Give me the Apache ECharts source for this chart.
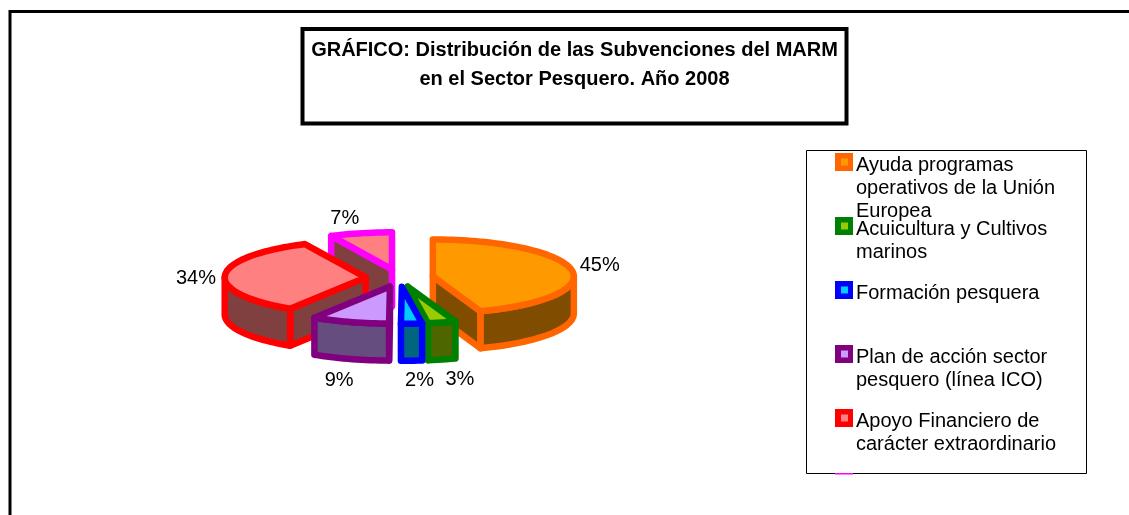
<!DOCTYPE html>
<html><head><meta charset="utf-8">
<style>html,body{margin:0;padding:0;background:#fff}#c{width:1129px;height:515px}</style>
<script src="https://cdn.jsdelivr.net/npm/echarts@6/dist/echarts.min.js"></script>
</head><body><div id="c"></div>
<script>
// Data
const categories = [
  'Ayuda programas\noperativos de la Unión\nEuropea',
  'Acuicultura y Cultivos\nmarinos',
  'Formación pesquera',
  'Plan de acción sector\npesquero (línea ICO)',
  'Apoyo Financiero de\ncarácter extraordinario',
  ''
];
const shares = [44.5, 3.2, 2.4, 8.9, 33.9, 7.1];
const titleLines = 'GRÁFICO: Distribución de las Subvenciones del MARM\nen el Sector Pesquero. Año 2008';

// Styles
const borderColors = ['#FF6600', '#008000', '#0000FF', '#800080', '#FF0000', '#FF00FF'];
const topColors    = ['#FF9900', '#99CC00', '#00CCFF', '#CC99FF', '#FF8080', '#FF8080'];
const wallColors   = ['#804C00', '#4D6600', '#006680', '#664D80', '#804040', '#804040'];
const paintOrder   = [5, 0, 4, 1, 2, 3];
const labelShift   = [[28, -5], [18, 20], [8, 20], [-11, 21], [-29, 3], [-16, -15]];
const pie = { cx: 399.5, cy: 278, rx: 141, ry: 37, depth: 37, explode: 0.24 };
const font = '"Liberation Sans", Arial, sans-serif';

const total = shares.reduce((a, b) => a + b, 0);
const starts = [];
shares.reduce((acc, v, i) => { starts[i] = acc; return acc + v; }, 0);
const rad = d => d * Math.PI / 180;

function renderSlice(params, api) {
  const i = api.value(0);
  const t0 = starts[i] / total * 360;
  const t1 = (starts[i] + shares[i]) / total * 360;
  const tm = rad((t0 + t1) / 2);
  const cx = pie.cx + pie.explode * pie.rx * Math.sin(tm);
  const cy = pie.cy - pie.explode * pie.ry * Math.cos(tm);
  const pt = (t, dz) => [cx + pie.rx * Math.sin(rad(t)), cy - pie.ry * Math.cos(rad(t)) + (dz || 0)];
  const arc = (a, b, dz) => {
    const n = Math.max(2, Math.ceil((b - a) / 2)), out = [];
    for (let k = 0; k <= n; k++) out.push(pt(a + (b - a) * k / n, dz));
    return out;
  };
  const poly = (points, fill) => ({
    type: 'polygon', shape: { points },
    style: { fill, stroke: borderColors[i], lineWidth: 6.5, lineJoin: 'round' }
  });
  const apex = [cx, cy], apexLow = [cx, cy + pie.depth], d = pie.depth;
  const children = [];
  const radialWall = t => poly([apex, pt(t), pt(t, d), apexLow], wallColors[i]);
  if (Math.sin(rad(t0)) < -1e-6) children.push(radialWall(t0));
  if (Math.sin(rad(t1)) > 1e-6) children.push(radialWall(t1));
  const a = Math.max(t0, 90), b = Math.min(t1, 270);
  if (b > a) children.push(poly(arc(a, b, 0).concat(arc(a, b, d).reverse()), wallColors[i]));
  children.push(poly([apex].concat(arc(t0, t1, 0)), topColors[i]));
  const anchor = pt((t0 + t1) / 2, 0);
  const s = labelShift[i];
  const isFront = Math.cos(tm) < -0.5;
  children.push({
    type: 'text',
    style: {
      text: Math.round(shares[i]) + '%', x: anchor[0] + s[0], y: anchor[1] + s[1] + (isFront ? d : 0),
      fill: '#000', font: '20px ' + font, align: 'center', verticalAlign: 'middle'
    }
  });
  return { type: 'group', children };
}

const box = { x: 806.5, y: 150.5, w: 280, h: 323 };
const graphics = [
  { type: 'polyline', shape: { points: [[1129, 11.5], [10, 11.5], [10, 515]] },
    style: { fill: 'none', stroke: '#000', lineWidth: 3 } },
  { type: 'rect', shape: { x: 302.5, y: 29, width: 544, height: 94.5 },
    style: { fill: '#fff', stroke: '#000', lineWidth: 4 } },
  { type: 'text', style: { text: titleLines, x: 574.5, y: 35.5, fill: '#000', align: 'center',
      font: 'bold 20px ' + font, lineHeight: 29 } },
  { type: 'rect', shape: { x: box.x, y: box.y, width: box.w, height: box.h },
    style: { fill: '#fff', stroke: '#000', lineWidth: 1 } }
];
categories.forEach((name, i) => {
  const y = 153 + 64 * i;
  const h = Math.min(18, box.y + box.h + 1 - y);
  graphics.push({ type: 'rect', shape: { x: 835, y, width: 18, height: h }, style: { fill: borderColors[i] } });
  if (h === 18) {
    graphics.push({ type: 'rect', shape: { x: 841, y: y + 5.5, width: 7, height: 7 }, style: { fill: topColors[i] } });
    graphics.push({ type: 'text', style: { text: name, x: 856, y: y + 0.5, fill: '#000',
      font: '20px ' + font, lineHeight: 23 } });
  }
});

const chart = echarts.init(document.getElementById('c'), null, { renderer: 'canvas' });
chart.setOption({
  animation: false,
  backgroundColor: '#fff',
  graphic: { elements: graphics },
  series: [{
    type: 'custom', coordinateSystem: 'none', renderItem: renderSlice,
    data: paintOrder.map(i => [i, shares[i]]),
    silent: true
  }]
});
</script></body></html>
